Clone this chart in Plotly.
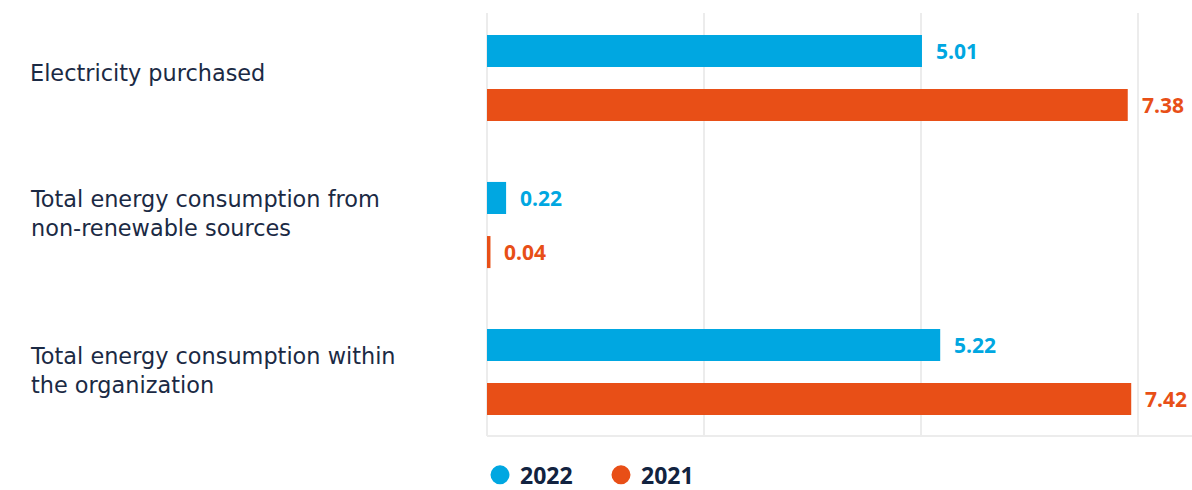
import plotly.graph_objects as go

# Energy consumption by category and year
categories = [
    "Electricity purchased",
    "Total energy consumption from<br>non-renewable sources",
    "Total energy consumption within<br>the organization",
]
values_2022 = [5.01, 0.22, 5.22]
values_2021 = [7.38, 0.04, 7.42]
series_names = ["2022", "2021"]

BLUE = "#00a7e1"
ORANGE = "#e84f17"
TEXT = "#1b2a44"
GRID = "#ececec"

pos = list(range(len(categories)))
bar_w = 0.218
offsets = [-0.293, 0.075]
colors = [BLUE, ORANGE]
series = [values_2022, values_2021]
label_yshift = [5, 12, 2]

fig = go.Figure()
for name, vals, off, col in zip(series_names, series, offsets, colors):
    fig.add_trace(go.Bar(
        x=vals, y=pos, orientation="h", width=bar_w, offset=off,
        marker=dict(color=col, line=dict(width=0)),
        showlegend=False, hoverinfo="x",
    ))
    # value labels at the end of each bar
    for v, p in zip(vals, pos):
        fig.add_annotation(
            x=v, y=p + off + bar_w / 2, xref="x", yref="y",
            text=f"{v:.2f}", showarrow=False, xanchor="left", xshift=12,
            font=dict(family="Open Sans", size=21, color=col, weight="bold"),
        )
    # legend entries as round markers
    fig.add_trace(go.Scatter(
        x=[None], y=[None], mode="markers", name=name,
        marker=dict(symbol="circle", size=16, color=col,
                    line=dict(width=3, color=col)),
    ))

# category labels, left aligned in the margin
for cat, p, ys in zip(categories, pos, label_yshift):
    fig.add_annotation(
        x=0, y=p, xref="paper", yref="y", xanchor="left", xshift=-459,
        yshift=ys, text=cat, showarrow=False, align="left",
        font=dict(family="DejaVu Sans", size=22.4, color=TEXT),
    )

fig.update_layout(
    width=1192, height=490,
    margin=dict(l=487, r=0, t=13, b=54, autoexpand=False),
    paper_bgcolor="white", plot_bgcolor="white",
    barmode="overlay",
    xaxis=dict(
        range=[0, 8.12], dtick=2.5, tick0=0, showticklabels=False,
        showgrid=True, gridcolor=GRID, gridwidth=2,
        zeroline=True, zerolinecolor=GRID, zerolinewidth=2,
        showline=False, fixedrange=True,
    ),
    yaxis=dict(
        range=[2.435, -0.442], showticklabels=False, showgrid=False,
        zeroline=False, showline=False, fixedrange=True,
    ),
    shapes=[dict(type="line", xref="paper", yref="paper", x0=0, x1=1, y0=0, y1=0,
                 line=dict(color=GRID, width=2))],
    legend=dict(
        orientation="h", x=-7 / 705, xanchor="left", y=-0.092, yanchor="middle",
        font=dict(family="Open Sans", size=23, color="#122340", weight="bold"),
        entrywidth=76, entrywidthmode="pixels", itemsizing="trace",
        bgcolor="rgba(0,0,0,0)",
    ),
)

fig.write_html("out.html")
